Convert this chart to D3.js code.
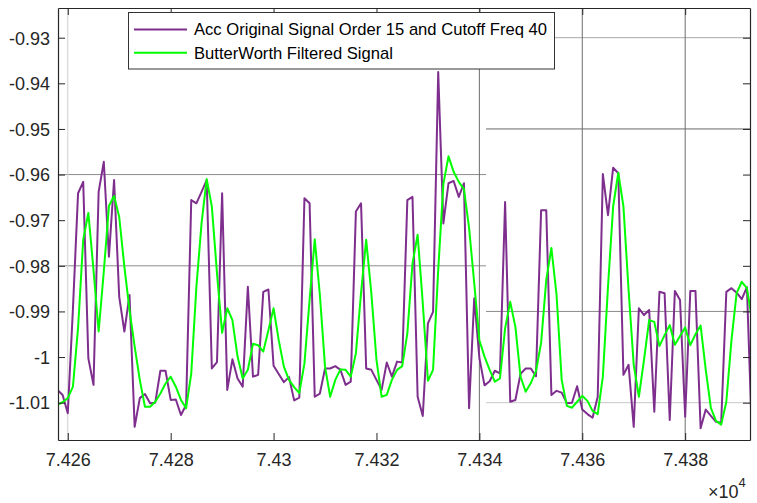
<!DOCTYPE html>
<html><head><meta charset="utf-8">
<script src="https://cdn.jsdelivr.net/npm/d3@7"></script>
<style>
html,body{margin:0;padding:0;background:#fff;}
svg{display:block;font-family:"Liberation Sans",Arial,Helvetica,sans-serif;}
</style></head>
<body>
<svg id="chart" width="757" height="503"></svg>
<script>
// ---- data ----
const xStart = 74258;
const original = [
-1.0072,-1.0083,-1.0123,-0.9895,-0.9641,-0.9616,-1.0003,-1.0061,-0.9638,-0.9572,
-0.9780,-0.9612,-0.9868,-0.9944,-0.9864,-1.0153,-1.0090,-1.0081,-1.0101,-1.0100,
-1.0030,-1.0030,-1.0094,-1.0093,-1.0127,-1.0105,-0.9656,-0.9663,-0.9638,-0.9612,
-1.0025,-1.0011,-0.9641,-1.0072,-1.0005,-1.0047,-1.0065,-0.9846,-1.0043,-1.0039,
-0.9857,-0.9852,-1.0019,-1.0037,-1.0055,-1.0044,-1.0095,-1.0089,-0.9652,-0.9663,
-1.0087,-1.0080,-1.0025,-1.0025,-1.0020,-1.0028,-1.0061,-1.0054,-0.9681,-0.9663,
-1.0025,-1.0028,-1.0050,-1.0072,-1.0012,-1.0043,-1.0010,-1.0012,-0.9656,-0.9649,
-1.0087,-1.0129,-0.9926,-0.9901,-0.9375,-0.9707,-0.9619,-0.9614,-0.9649,-0.9619,
-1.0112,-0.9871,-1.0002,-1.0062,-1.0053,-1.0030,-1.0036,-0.9660,-1.0098,-1.0094,
-1.0037,-1.0025,-1.0025,-1.0042,-0.9678,-0.9678,-1.0083,-1.0074,-1.0078,-1.0101,
-1.0100,-1.0064,-1.0115,-1.0125,-1.0133,-1.0087,-0.9599,-0.9689,-0.9585,-0.9597,
-1.0039,-1.0017,-1.0153,-0.9893,-0.9908,-0.9897,-1.0120,-0.9857,-0.9860,-1.0138,
-0.9855,-0.9875,-1.0131,-0.9855,-0.9855,-1.0156,-1.0115,-1.0129,-1.0142,-1.0144,
-0.9857,-0.9849,-0.9859,-0.9873,-0.9847,-1.0180
];
const filtered = [
-1.0105,-1.0099,-1.0090,-1.0065,-0.9936,-0.9743,-0.9684,-0.9809,-0.9944,-0.9813,
-0.9669,-0.9647,-0.9693,-0.9802,-0.9897,-0.9977,-1.0050,-1.0109,-1.0109,-1.0098,
-1.0080,-1.0058,-1.0043,-1.0065,-1.0094,-1.0112,-1.0036,-0.9846,-0.9707,-0.9610,
-0.9670,-0.9816,-0.9947,-0.9893,-0.9919,-0.9999,-1.0047,-1.0028,-0.9971,-0.9974,
-0.9988,-0.9941,-0.9893,-0.9963,-1.0021,-1.0050,-1.0066,-1.0079,-1.0014,-0.9875,
-0.9742,-0.9864,-1.0021,-1.0087,-1.0050,-1.0027,-1.0028,-1.0043,-0.9992,-0.9860,
-0.9743,-0.9860,-1.0006,-1.0087,-1.0083,-1.0050,-1.0028,-1.0020,-0.9948,-0.9795,
-0.9732,-0.9882,-1.0052,-1.0028,-0.9809,-0.9621,-0.9560,-0.9594,-0.9616,-0.9632,
-0.9717,-0.9838,-0.9963,-0.9999,-1.0028,-1.0054,-1.0047,-0.9937,-0.9879,-0.9934,
-1.0043,-1.0076,-1.0057,-1.0031,-0.9969,-0.9831,-0.9761,-0.9864,-1.0050,-1.0107,
-1.0111,-1.0098,-1.0085,-1.0096,-1.0118,-1.0125,-1.0043,-0.9846,-0.9670,-0.9596,
-0.9670,-0.9853,-1.0017,-1.0087,-1.0006,-0.9919,-0.9923,-0.9976,-0.9952,-0.9930,
-0.9973,-0.9954,-0.9935,-0.9974,-0.9950,-0.9931,-1.0028,-1.0112,-1.0140,-1.0148,
-1.0098,-0.9963,-0.9860,-0.9835,-0.9849,-0.9919
];
const xTicks = [74260, 74280, 74300, 74320, 74340, 74360, 74380];
const xTickLabels = ["7.426","7.428","7.43","7.432","7.434","7.436","7.438"];
const yTicks = [-0.93,-0.94,-0.95,-0.96,-0.97,-0.98,-0.99,-1,-1.01];
const yTickLabels = ["-0.93","-0.94","-0.95","-0.96","-0.97","-0.98","-0.99","-1","-1.01"];
const seriesNames = ["Acc Original Signal Order 15 and Cutoff Freq 40","ButterWorth Filtered Signal"];

// ---- layout ----
const L = 58, R = 750, T = 8, B = 440;
const svg = d3.select("#chart");
const x = d3.scaleLinear().domain([74258.1, 74392.6]).range([L, R]);
const y = d3.scaleLinear().domain([-0.92349, -1.01818]).range([T, B]);

svg.append("defs").append("clipPath").attr("id","clip")
  .append("rect").attr("x",L).attr("y",T).attr("width",R-L).attr("height",B-T);

// grid (odd split grid as in the reference)
const splitX = 74341.3;
const g = svg.append("g");
g.selectAll(".hl").data([-0.96,-0.98]).enter().append("line")
  .attr("x1",x(x.domain()[0])).attr("x2",x(splitX))
  .attr("y1",d=>y(d)).attr("y2",d=>y(d))
  .attr("stroke","#8c8c8c").attr("stroke-width",1);
g.selectAll(".hr").data([-0.93,-0.95,-0.99,-1.01]).enter().append("line")
  .attr("x1",x(splitX)).attr("x2",x(x.domain()[1]))
  .attr("y1",d=>y(d)).attr("y2",d=>y(d))
  .attr("stroke",(d,i)=>["#a8a8a8","#6a6a6a","#8a8a8a","#c8c8c8"][i]).attr("stroke-width",1);
g.selectAll(".vl").data([74340,74360,74380]).enter().append("line")
  .attr("x1",d=>x(d)).attr("x2",d=>x(d)).attr("y1",T).attr("y2",B)
  .attr("stroke","#6e6e6e").attr("stroke-width",1);
g.append("line").attr("x1",x(74260)).attr("x2",x(74260)).attr("y1",T).attr("y2",B)
  .attr("stroke","#cfcfcf").attr("stroke-width",1);

// lines
const line = d3.line().x((d,i)=>x(xStart+i)).y(d=>y(d));
const plot = svg.append("g").attr("clip-path","url(#clip)");
plot.append("path").datum(original).attr("d",line)
  .attr("fill","none").attr("stroke","#7E2F8E").attr("stroke-width",2).attr("stroke-linejoin","round");
plot.append("path").datum(filtered).attr("d",line)
  .attr("fill","none").attr("stroke","#00FF00").attr("stroke-width",2).attr("stroke-linejoin","round");

// axes
const axCol = "#262626";
const fmtX = d => xTickLabels[xTicks.indexOf(d)];
const fmtY = d => yTickLabels[yTicks.indexOf(d)];
const xb = svg.append("g").attr("transform",`translate(0,${B})`)
  .call(d3.axisBottom(x).tickValues(xTicks).tickFormat(fmtX).tickSizeInner(-7).tickSizeOuter(0).tickPadding(13));
const xt = svg.append("g").attr("transform",`translate(0,${T})`)
  .call(d3.axisTop(x).tickValues(xTicks).tickFormat("").tickSizeInner(-7).tickSizeOuter(0));
const yl = svg.append("g").attr("transform",`translate(${L},0)`)
  .call(d3.axisLeft(y).tickValues(yTicks).tickFormat(fmtY).tickSizeInner(-7).tickSizeOuter(0).tickPadding(8));
const yr = svg.append("g").attr("transform",`translate(${R},0)`)
  .call(d3.axisRight(y).tickValues(yTicks).tickFormat("").tickSizeInner(-7).tickSizeOuter(0));
[xb,xt,yl,yr].forEach(a=>{
  a.select(".domain").attr("stroke",axCol).attr("stroke-width",1.2);
  a.selectAll(".tick line").attr("stroke",axCol);
  a.selectAll("text").attr("fill","#262626").style("font-size","18px")
   .style("font-family","'Liberation Sans',Arial,sans-serif");
});
yl.selectAll("text").attr("dy","0.35em");

// exponent label
const ex = svg.append("text").attr("x",708).attr("y",498).attr("fill","#262626")
  .style("font-size","18px");
ex.append("tspan").text("\u00d710");
ex.append("tspan").attr("dy",-11).style("font-size","13px").text("4");

// legend
const lg = svg.append("g");
lg.append("rect").attr("x",128.5).attr("y",12.5).attr("width",426).attr("height",56.5)
  .attr("fill","#fff").attr("stroke","#333").attr("stroke-width",1);
const colors = ["#7E2F8E","#00FF00"];
seriesNames.forEach((n,i)=>{
  const yy = 29.5 + i*23.3;
  lg.append("line").attr("x1",134).attr("x2",187).attr("y1",yy).attr("y2",yy)
    .attr("stroke",colors[i]).attr("stroke-width",2);
  lg.append("text").attr("x",194).attr("y",yy).attr("dy","0.35em")
    .attr("fill","#000").style("font-size","16.6px").text(n);
});
</script>
</body></html>
